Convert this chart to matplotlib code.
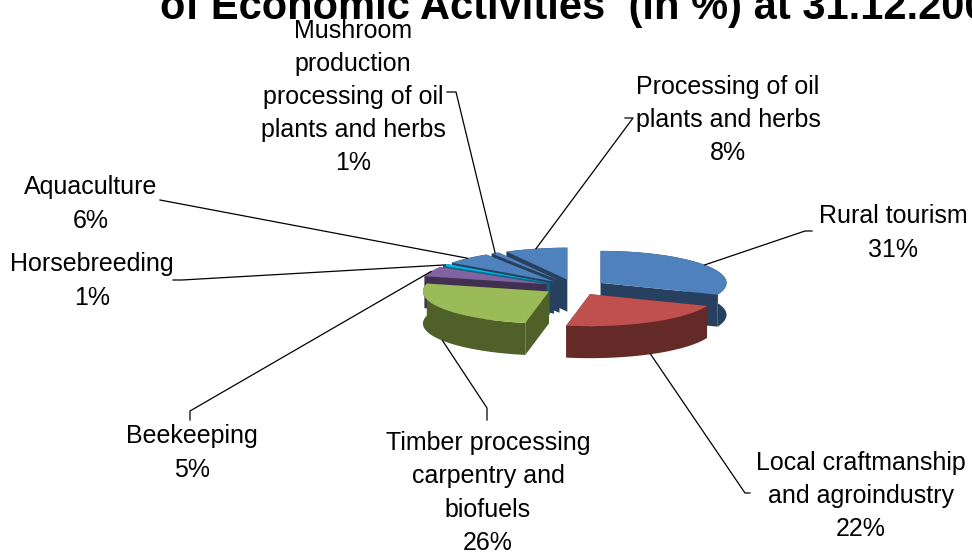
import matplotlib
matplotlib.use("Agg")
import matplotlib.pyplot as plt
import numpy as np

plt.rcParams["font.family"] = ["Liberation Sans", "DejaVu Sans"]

# valores do grafico (%)
nomes = ["Rural tourism", "Local craftmanship\nand agroindustry",
         "Timber processing\ncarpentry and\nbiofuels", "Beekeeping",
         "Horsebreeding", "Aquaculture",
         "Mushroom\nproduction\nprocessing of oil\nplants and herbs",
         "Processing of oil\nplants and herbs"]
valores = [31, 22, 26, 5, 1, 6, 1, 8]
cores_topo = ["#4f81bd", "#c0504d", "#9bbb59", "#8064a2", "#00b8ef", "#4f81bd", "#4f81bd", "#4f81bd"]
cores_lado = ["#274060", "#632a28", "#4f6029", "#413051", "#006d85", "#274060", "#274060", "#274060"]
titulo = "of Economic Activities  (in %) at 31.12.200"

# geometria da pizza, em pixels da imagem
cx, cy = 575, 287.3
rx, ry = 126, 32
explode = 0.245
altura = 32

# centro do rotulo e cotovelo da linha guia
pos_rotulo = [(893, 233), (861, 496), (488, 493), (192, 453), (92, 281), (91, 204), (353, 97), (728, 120)]
cotovelos = [[(812, 231), (805, 231)], [(750, 493), (745, 493)], [(487, 420), (487, 408)],
             [(190, 420), (190, 411)], [(173, 280), (182, 280)], [(160, 200)],
             [(447, 92), (456, 92)], [(625, 118), (633, 118)]]

fig = plt.figure(figsize=(9.72, 5.54), dpi=100)
ax = fig.add_axes([0, 0, 1, 1])
ax.set_xlim(0, 972)
ax.set_ylim(554, 0)
ax.axis("off")

porcent = np.array(valores) / sum(valores)
fim = np.cumsum(porcent) * 2 * np.pi
inicio = fim - porcent * 2 * np.pi
meio = (inicio + fim) / 2
apx = cx + explode * rx * np.sin(meio)
apy = cy - explode * ry * np.cos(meio)


def borda(i, ang):
    return apx[i] + rx * np.sin(ang), apy[i] - ry * np.cos(ang)


# do fundo para a frente
for i in np.argsort(np.cos(meio))[::-1]:
    angs = np.linspace(inicio[i], fim[i], 60)
    xs, ys = borda(i, angs)
    # paredes radiais
    for a in [inicio[i], fim[i]]:
        bx, by = borda(i, a)
        ax.fill([apx[i], bx, bx, apx[i]], [apy[i], by, by + altura, apy[i] + altura],
                color=cores_lado[i], lw=0, zorder=2)
    # lateral externa
    ax.fill(np.r_[xs, xs[::-1]], np.r_[ys, ys[::-1] + altura], color=cores_lado[i], lw=0, zorder=2)
    # topo
    ax.fill(np.r_[apx[i], xs], np.r_[apy[i], ys], color=cores_topo[i], lw=0, zorder=2)

# linhas guia e rotulos
for i in range(len(valores)):
    bx, by = borda(i, meio[i])
    if np.cos(meio[i]) < 0:
        by += altura
    pts = cotovelos[i] + [(bx, by)]
    ax.plot([p[0] for p in pts], [p[1] for p in pts], color="black", lw=0.9, zorder=3)
    ax.text(pos_rotulo[i][0], pos_rotulo[i][1], f"{nomes[i]}\n{valores[i]}%", ha="center", va="center",
            fontsize=18, linespacing=1.48, color="black", zorder=4)

ax.text(160, 19, titulo, ha="left", va="baseline", fontsize=30, fontweight="bold", color="black", zorder=5)

fig.savefig("out.png", dpi=100)
